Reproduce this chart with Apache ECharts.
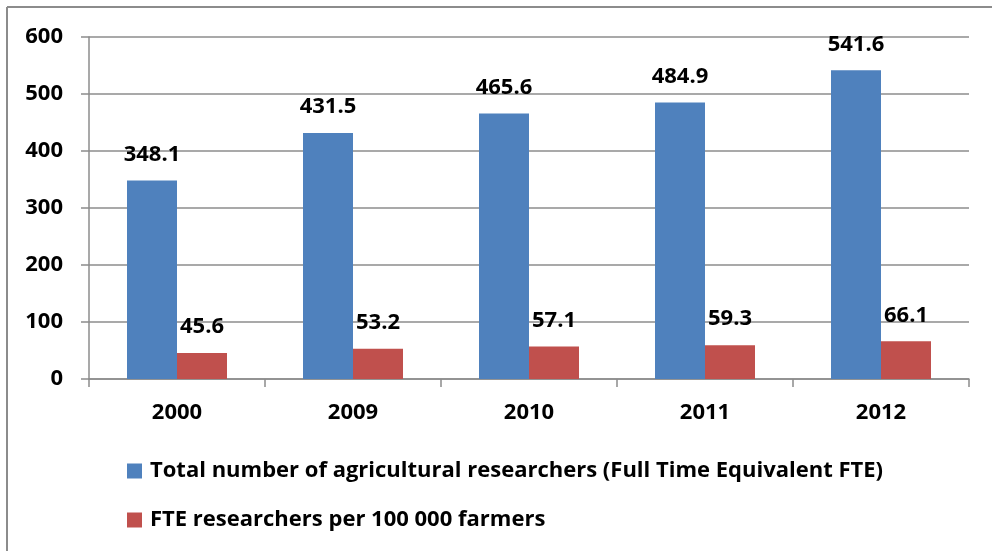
<!DOCTYPE html>
<html>
<head>
<meta charset="utf-8">
<script src="https://cdn.jsdelivr.net/npm/echarts@6/dist/echarts.min.js"></script>
<style>
  html, body { margin: 0; padding: 0; background: #fff; }
  #chart { width: 992px; height: 551px; }
</style>
</head>
<body>
<div id="chart"></div>
<script>
// Agricultural research staffing by year
const years = ['2000', '2009', '2010', '2011', '2012'];
const totalFTE = [348.1, 431.5, 465.6, 484.9, 541.6];
const perFarmers = [45.6, 53.2, 57.1, 59.3, 66.1];
const seriesNames = [
  'Total number of agricultural researchers (Full Time Equivalent FTE)',
  'FTE researchers per 100 000 farmers'
];

const FONT = '"Open Sans", "Noto Sans", sans-serif';
const chart = echarts.init(document.getElementById('chart'), null, { renderer: 'canvas' });

const labelStyle = {
  show: true,
  position: 'top',
  distance: 15,
  fontFamily: FONT,
  fontWeight: 'bold',
  fontSize: 22,
  color: '#000',
  formatter: p => p.value.toFixed(1)
};

chart.setOption({
  animation: false,
  backgroundColor: '#fff',
  grid: { left: 89, right: 23, top: 37, bottom: 172, containLabel: false },
  graphic: [
    { type: 'line', shape: { x1: 7, y1: 7, x2: 992, y2: 7 }, style: { stroke: '#8c8c8c', lineWidth: 2 } },
    { type: 'line', shape: { x1: 7, y1: 7, x2: 7, y2: 551 }, style: { stroke: '#8c8c8c', lineWidth: 2 } }
  ],
  legend: {
    orient: 'vertical',
    left: 122,
    top: 455,
    itemGap: 27,
    itemWidth: 15,
    itemHeight: 15,
    icon: 'rect',
    textStyle: { fontFamily: FONT, fontWeight: 'bold', fontSize: 22, color: '#000', padding: [0, 0, 0, 3] },
    data: seriesNames
  },
  xAxis: {
    type: 'category',
    data: years,
    axisLine: { lineStyle: { color: '#8c8c8c', width: 1.5 } },
    axisTick: { show: true, length: 8, alignWithLabel: false, lineStyle: { color: '#8c8c8c', width: 1.5 } },
    axisLabel: { fontFamily: FONT, fontWeight: 'bold', fontSize: 22, color: '#000', margin: 23 }
  },
  yAxis: {
    type: 'value',
    min: 0,
    max: 600,
    interval: 100,
    axisLine: { show: true, lineStyle: { color: '#8c8c8c', width: 1.5 } },
    axisTick: { show: true, length: 8, lineStyle: { color: '#8c8c8c', width: 1.5 } },
    splitLine: { lineStyle: { color: '#8c8c8c', width: 1.5 } },
    axisLabel: { fontFamily: FONT, fontWeight: 'bold', fontSize: 22, color: '#000', margin: 26 }
  },
  series: [
    {
      name: seriesNames[0],
      type: 'bar',
      data: totalFTE,
      barWidth: 50,
      barGap: '0%',
      itemStyle: { color: '#4F81BD' },
      label: labelStyle
    },
    {
      name: seriesNames[1],
      type: 'bar',
      data: perFarmers,
      barWidth: 50,
      barGap: '0%',
      itemStyle: { color: '#C0504D' },
      label: labelStyle
    }
  ]
});
</script>
</body>
</html>
